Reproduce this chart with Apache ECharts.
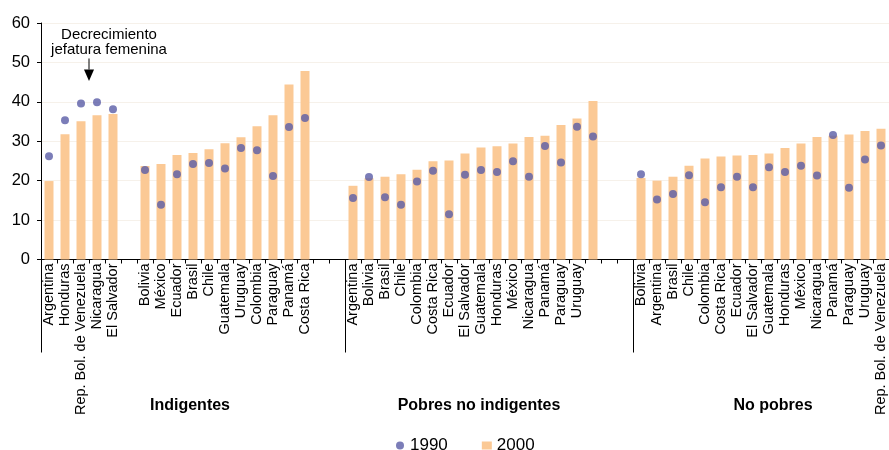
<!DOCTYPE html>
<html>
<head>
	<meta charset="utf-8">
	<title>Jefatura femenina</title>
	<script src="https://cdn.jsdelivr.net/npm/echarts@6/dist/echarts.min.js"></script>
	<style type="text/css">
		html, body { margin: 0; padding: 0; background-color: #fff; }
		#chartBox { width: 889px; height: 450px; }
	</style>
</head>
<body>
<div id="chartBox"></div>
<script>
	// Indigentes ('' = hueco entre los dos bloques)
	var indLabels = ['Argentina', 'Honduras', 'Rep. Bol. de Venezuela', 'Nicaragua', 'El Salvador', '', 'Bolivia', 'México', 'Ecuador', 'Brasil', 'Chile', 'Guatemala', 'Uruguay', 'Colombia', 'Paraguay', 'Panamá', 'Costa Rica'];
	var ind1990 = [26.2, 35.3, 39.6, 39.9, 38.1, null, 22.7, 13.9, 21.6, 24.2, 24.5, 23.1, 28.3, 27.7, 21.2, 33.6, 35.9];
	var ind2000 = [19.9, 31.8, 35.1, 36.6, 36.9, null, 23.7, 24.2, 26.5, 27.0, 28.0, 29.5, 31.0, 33.8, 36.6, 44.4, 47.8];

	// Pobres no indigentes (la ultima barra no tiene rotulo en el original)
	var pobLabels = ['Argentina', 'Bolivia', 'Brasil', 'Chile', 'Colombia', 'Costa Rica', 'Ecuador', 'El Salvador', 'Guatemala', 'Honduras', 'México', 'Nicaragua', 'Panamá', 'Paraguay', 'Uruguay', ''];
	var pob1990 = [15.6, 20.9, 15.8, 13.9, 19.8, 22.5, 11.5, 21.5, 22.7, 22.2, 24.9, 21.0, 28.8, 24.6, 33.7, 31.2];
	var pob2000 = [18.7, 20.6, 21.0, 21.6, 22.8, 24.9, 25.1, 26.9, 28.4, 28.7, 29.4, 31.1, 31.4, 34.1, 35.8, 40.2];

	// No pobres
	var nopLabels = ['Bolivia', 'Argentina', 'Brasil', 'Chile', 'Colombia', 'Costa Rica', 'Ecuador', 'El Salvador', 'Guatemala', 'Honduras', 'México', 'Nicaragua', 'Panamá', 'Paraguay', 'Uruguay', 'Rep. Bol. de Venezuela'];
	var nop1990 = [21.6, 15.2, 16.6, 21.4, 14.5, 18.3, 21.0, 18.3, 23.4, 22.2, 23.8, 21.3, 31.6, 18.2, 25.4, 28.9];
	var nop2000 = [20.7, 20.0, 21.0, 23.8, 25.6, 26.1, 26.4, 26.5, 26.9, 28.3, 29.4, 31.1, 31.4, 31.7, 32.6, 33.2];

	var groupNames = ['Indigentes', 'Pobres no indigentes', 'No pobres'];
	var yMin = 0, yMax = 60, yStep = 10;

	var gap = ['', ''];
	var gapVal = [null, null];
	var categories = indLabels.concat(gap, pobLabels, gap, nopLabels);
	var data1990 = ind1990.concat(gapVal, pob1990, gapVal, nop1990);
	var data2000 = ind2000.concat(gapVal, pob2000, gapVal, nop2000);

	// indices donde empieza cada grupo (linea separadora larga)
	var sepIdx = [0, indLabels.length + 2, indLabels.length + 2 + pobLabels.length + 2];

	var fontName = '"Liberation Sans", Arial, Helvetica, sans-serif';

	var myChart = echarts.init(document.getElementById('chartBox'));
	var options = {
		animation: false,
		textStyle: { fontFamily: fontName },
		grid: { left: 41, top: 23, width: 852, height: 236.5 },
		legend: {
			left: 391,
			top: 432,
			itemGap: 34,
			itemWidth: 10,
			itemHeight: 8,
			textStyle: { fontSize: 17, color: '#000', fontFamily: fontName },
			data: [
				{ name: '1990', icon: 'circle' },
				{ name: '2000', icon: 'rect' }
			]
		},
		xAxis: [{
			type: 'category',
			data: categories,
			axisLine: { lineStyle: { color: '#000', width: 1 } },
			axisTick: { show: true, interval: 0, length: 4, lineStyle: { color: '#000' } },
			axisLabel: {
				interval: 0,
				rotate: 90,
				margin: 4,
				color: '#000',
				fontSize: 14.5,
				fontFamily: fontName
			}
		}, {
			// solo para las lineas verticales largas que separan los grupos
			type: 'category',
			data: categories,
			position: 'bottom',
			axisLine: { show: false },
			axisLabel: { show: false },
			axisTick: {
				show: true,
				length: 93,
				interval: function (idx) { return sepIdx.indexOf(idx) > -1; },
				lineStyle: { color: '#000', width: 1 }
			}
		}],
		yAxis: [{
			type: 'value',
			min: yMin,
			max: yMax,
			interval: yStep,
			axisLine: { show: true, lineStyle: { color: '#000', width: 1 } },
			axisTick: { show: true, length: 4, lineStyle: { color: '#000' } },
			axisLabel: { color: '#000', fontSize: 16.5, margin: 11, fontFamily: fontName },
			splitLine: { show: true, lineStyle: { color: '#f6f1ea', width: 1 } }
		}],
		series: [{
			name: '2000',
			type: 'bar',
			barWidth: 9,
			itemStyle: { color: '#fbc995' },
			data: data2000
		}, {
			name: '1990',
			type: 'scatter',
			symbol: 'circle',
			symbolSize: 8,
			itemStyle: { color: '#5a5ca6' },
			z: 3,
			data: data1990
		}]
	};
	myChart.setOption(options);

	// rotulos de grupo y anotacion
	var xVen = myChart.convertToPixel({ xAxisIndex: 0 }, 2);
	var xNic = myChart.convertToPixel({ xAxisIndex: 0 }, 3);
	var arrowX = (xVen + xNic) / 2;
	var yTop = myChart.convertToPixel({ yAxisIndex: 0 }, 51);
	var yHead = myChart.convertToPixel({ yAxisIndex: 0 }, 48.2);
	var yTip = myChart.convertToPixel({ yAxisIndex: 0 }, 45.3);
	var yText = myChart.convertToPixel({ yAxisIndex: 0 }, 55.0);

	var groupX = [190, 479, 773];
	var graphics = [];
	for (var i = 0; i < groupNames.length; i++) {
		graphics.push({
			type: 'text',
			x: groupX[i],
			y: 406,
			style: {
				text: groupNames[i],
				fontSize: 16,
				fontWeight: 'bold',
				fontFamily: fontName,
				fill: '#000',
				align: 'center',
				verticalAlign: 'middle'
			}
		});
	}
	graphics.push({
		type: 'text',
		x: arrowX + 20,
		y: yText,
		style: {
			text: 'Decrecimiento\njefatura femenina',
			fontSize: 15,
			lineHeight: 15,
			fontFamily: fontName,
			fill: '#000',
			align: 'center',
			verticalAlign: 'middle'
		}
	});
	graphics.push({
		type: 'line',
		shape: { x1: arrowX, y1: yTop, x2: arrowX, y2: yHead },
		style: { stroke: '#000', lineWidth: 1 }
	});
	graphics.push({
		type: 'polygon',
		shape: { points: [[arrowX - 5, yHead], [arrowX + 5, yHead], [arrowX, yTip]] },
		style: { fill: '#000' }
	});
	myChart.setOption({ graphic: graphics });
</script>
</body>
</html>
